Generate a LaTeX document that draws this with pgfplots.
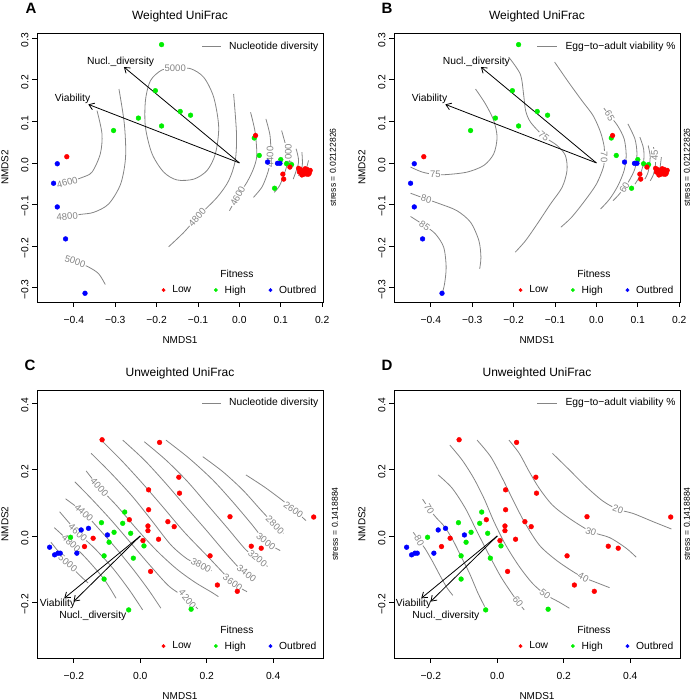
\documentclass[border=0pt]{standalone}
\usepackage{fontspec}
\setmainfont{Liberation Sans}
\usepackage{pgfplots}
\usepackage{pgfplotstable}
\pgfplotsset{compat=1.18}
\usetikzlibrary{arrows.meta}

\definecolor{cred}{HTML}{FF0000}
\definecolor{cgreen}{HTML}{00EE00}
\definecolor{cblue}{HTML}{0000FF}
\definecolor{cgray}{HTML}{858585}

\newcommand\fs{\fontsize{10.3}{12}\selectfont}

% weighted UniFrac ordination (panels A, B)
\pgfplotstableread{
x y
-0.188 0.285
-0.203 0.174
-0.143 0.124
-0.118 0.115
-0.244 0.108
-0.188 0.089
-0.304 0.078
0.036 0.060
0.048 0.018
0.100 0.008
0.114 -0.002
0.126 -0.004
0.085 -0.061
}\wHigh
\pgfplotstableread{
x y
-0.440 -0.002
-0.449 -0.049
-0.440 -0.106
-0.420 -0.183
-0.373 -0.314
0.068 0.002
0.092 -0.001
0.098 -0.001
}\wOut
\pgfplotstableread{
x y
-0.417 0.015
0.039 0.066
0.105 -0.027
0.107 -0.039
0.122 -0.010
0.143 -0.013
0.148 -0.016
0.145 -0.022
0.153 -0.021
0.156 -0.027
0.161 -0.018
0.167 -0.021
0.169 -0.024
0.163 -0.027
0.151 -0.029
0.159 -0.014
0.164 -0.016
0.147 -0.018
0.155 -0.024
0.171 -0.018
0.150 -0.024
0.159 -0.022
0.167 -0.027
}\wLow

% unweighted UniFrac ordination (panels C, D)
\pgfplotstableread{
x y
-0.047 0.072
-0.117 0.040
-0.053 0.038
-0.079 0.011
-0.029 0.008
-0.210 -0.004
-0.094 -0.019
0.011 -0.030
-0.109 -0.060
-0.021 -0.067
-0.109 -0.130
-0.035 -0.223
0.153 -0.221
}\uHigh
\pgfplotstableread{
x y
-0.273 -0.034
-0.258 -0.057
-0.248 -0.052
-0.241 -0.052
-0.191 -0.052
-0.178 0.018
-0.156 0.023
-0.099 0.003
}\uOut
\pgfplotstableread{
x y
-0.115 0.290
0.058 0.282
0.116 0.177
0.118 0.129
0.025 0.139
0.025 0.079
-0.033 0.049
0.023 0.030
0.023 0.016
0.083 0.043
0.102 0.028
0.008 -0.014
0.055 -0.010
-0.142 -0.007
-0.168 -0.032
0.031 -0.107
0.270 0.058
0.210 -0.060
0.334 -0.031
0.364 -0.037
0.232 -0.148
0.292 -0.167
0.522 0.057
}\uLow

\pgfplotsset{
  nmds/.style={
    scale only axis, width=286pt, clip=false, anchor=south west,
    axis line style={black, line width=0.8pt},
    tick align=outside, major tick length=5pt,
    xtick pos=bottom, ytick pos=left,
    tick style={black, line width=0.8pt},
    tick label style={font=\fs},
    yticklabel style={rotate=90, anchor=south, xshift=-2pt},
    xticklabel style={yshift=-6pt},
    xlabel={NMDS1}, ylabel={NMDS2},
    label style={font=\fs},
    every axis x label/.style={at={(axis description cs:0.5,-0.141)}, anchor=center},
    every axis y label/.style={at={(axis description cs:-0.112,0.5)}, rotate=90, anchor=center},
    title style={font=\fontsize{12}{14}\selectfont, at={(axis description cs:0.5,1.038)}, anchor=center},
    legend columns=3,
    legend style={draw=none, fill=none, font=\fs, at={(rel axis cs:0.995,0.012)}, anchor=south east,
      /tikz/every odd column/.append style={column sep=5pt},
      /tikz/every even column/.append style={column sep=21pt}},
  },
  wu/.style={nmds, height=269pt, xmin=-0.489, xmax=0.202, ymin=-0.335, ymax=0.313,
    xtick={-0.4,-0.3,-0.2,-0.1,0,0.1,0.2}, xticklabels={−0.4,−0.3,−0.2,−0.1,0.0,0.1,0.2},
    ytick={-0.3,-0.2,-0.1,0,0.1,0.2,0.3}, yticklabels={−0.3,−0.2,−0.1,0.0,0.1,0.2,0.3},
    title={Weighted UniFrac}},
  uu/.style={nmds, height=268pt, xmin=-0.311, xmax=0.550, ymin=-0.368, ymax=0.440,
    xtick={-0.2,0,0.2,0.4}, xticklabels={−0.2,0.0,0.2,0.4},
    ytick={-0.2,0,0.2,0.4}, yticklabels={−0.2,0.0,0.2,0.4},
    title={Unweighted UniFrac}},
  ctr/.style={no marks, color=cgray, line width=0.8pt, smooth, forget plot},
  arr/.style={black, line width=0.8pt, -{Straight Barb[length=5pt,width=7pt]}, forget plot},
  pt/.style={only marks, mark=*, mark size=2.4pt, forget plot},
}
\tikzset{
  clab/.style={text=cgray, fill=white, inner sep=0.8pt, font=\fontsize{9.5}{10}\selectfont},
  stress/.style={rotate=90, inner sep=0pt, font=\fontsize{8.6}{10}\selectfont},
}

\newcommand\fitlegend{%
  \addlegendimage{only marks, mark=*, cred, mark size=1.7pt}\addlegendentry{Low}
  \addlegendimage{only marks, mark=*, cgreen, mark size=1.7pt}\addlegendentry{High}
  \addlegendimage{only marks, mark=*, cblue, mark size=1.7pt}\addlegendentry{Outbred}
  \node[font=\fs] at (rel axis cs:0.699,0.104) {Fitness};}

\begin{document}
\begin{tikzpicture}
\useasboundingbox (0,0) rectangle (695pt,700pt);

% ---------------- A ----------------
\begin{axis}[wu, at={(37pt,398pt)}]
\addplot[ctr] coordinates {(-0.344,0.126) (-0.332,0.070) (-0.336,0.022) (-0.356,-0.022) (-0.380,-0.035) (-0.416,-0.047)};
\addplot[ctr] coordinates {(-0.291,0.178) (-0.278,0.094) (-0.275,0.014) (-0.287,-0.051) (-0.316,-0.099) (-0.352,-0.119) (-0.384,-0.124) (-0.416,-0.129)};
\addplot[ctr] coordinates {(-0.397,-0.237) (-0.364,-0.251) (-0.340,-0.267) (-0.324,-0.293)};
\addplot[ctr] coordinates {(-0.155,0.228) (-0.118,0.227) (-0.086,0.206) (-0.062,0.158) (-0.050,0.086) (-0.058,0.022) (-0.078,-0.018) (-0.110,-0.039) (-0.151,-0.041) (-0.183,-0.022) (-0.211,0.022) (-0.227,0.086) (-0.227,0.150) (-0.215,0.198) (-0.187,0.224) (-0.155,0.228)};
\addplot[ctr] coordinates {(-0.014,0.166) (-0.007,0.070) (-0.010,0.006) (-0.026,-0.043) (-0.054,-0.083) (-0.102,-0.131) (-0.134,-0.167) (-0.171,-0.202)};
\addplot[ctr] coordinates {(0.027,0.122) (0.038,0.074) (0.042,0.018) (0.034,-0.014) (0.018,-0.047) (-0.004,-0.080) (-0.024,-0.115)};
\addplot[ctr] coordinates {(0.064,0.106) (0.074,0.066) (0.076,0.020) (0.072,-0.010) (0.066,-0.031) (0.054,-0.059) (0.034,-0.083)};
\addplot[ctr] coordinates {(0.102,0.078) (0.113,0.038) (0.118,0.010) (0.110,-0.022) (0.097,-0.055) (0.084,-0.071)};
\addplot[ctr] coordinates {(0.137,0.034) (0.143,0.002) (0.130,-0.039)};
\addplot[ctr] coordinates {(0.151,0.026) (0.152,-0.006) (0.143,-0.031)};
\addplot[ctr] coordinates {(0.167,0.006) (0.161,-0.018)};
\node[clab, rotate=15] at (axis cs:-0.416,-0.047) {4600};
\node[clab, rotate=5] at (axis cs:-0.416,-0.129) {4800};
\node[clab, rotate=-18] at (axis cs:-0.397,-0.237) {5000};
\node[clab] at (axis cs:-0.155,0.228) {5000};
\node[clab, rotate=48] at (axis cs:-0.102,-0.131) {4800};
\node[clab, rotate=62] at (axis cs:-0.004,-0.080) {4600};
\node[clab, rotate=90] at (axis cs:0.074,0.014) {4400};
\node[clab, rotate=90] at (axis cs:0.118,0.020) {4000};
\addplot[arr] coordinates {(0,0) (-0.279,0.231)};
\addplot[arr] coordinates {(0,0) (-0.365,0.141)};
\node[font=\fs] at (axis cs:-0.287,0.244) {Nucl.\_diversity};
\node[font=\fs] at (axis cs:-0.403,0.154) {Viability};
\addplot[pt, cgreen] table {\wHigh};
\addplot[pt, cblue] table {\wOut};
\addplot[pt, cred] table {\wLow};
\fitlegend
\draw[cgray, line width=0.8pt] (rel axis cs:0.577,0.949) -- (rel axis cs:0.643,0.949);
\node[anchor=west, inner sep=0pt, font=\fs] at (rel axis cs:0.671,0.949) {Nucleotide diversity};
\node[stress] at (rel axis cs:1.035,0.5) {stress = 0.02122826};
\end{axis}

% ---------------- B ----------------
\begin{axis}[wu, at={(394pt,398pt)}]
\addplot[ctr] coordinates {(-0.292,0.178) (-0.268,0.142) (-0.248,0.102) (-0.240,0.062) (-0.248,0.022) (-0.272,-0.006) (-0.312,-0.022) (-0.361,-0.028) (-0.389,-0.028) (-0.421,-0.022) (-0.449,-0.010)};
\addplot[ctr] coordinates {(-0.449,-0.073) (-0.411,-0.087) (-0.377,-0.099) (-0.337,-0.115) (-0.304,-0.143) (-0.284,-0.187) (-0.279,-0.227) (-0.282,-0.255)};
\addplot[ctr] coordinates {(-0.449,-0.129) (-0.415,-0.151) (-0.389,-0.171) (-0.369,-0.203) (-0.363,-0.251) (-0.367,-0.292) (-0.373,-0.316)};
\addplot[ctr] coordinates {(-0.212,0.255) (-0.184,0.214) (-0.176,0.166) (-0.171,0.126) (-0.159,0.098) (-0.127,0.064) (-0.095,0.042) (-0.075,0.018) (-0.071,-0.018) (-0.083,-0.059) (-0.111,-0.099) (-0.143,-0.147) (-0.171,-0.187) (-0.196,-0.215)};
\addplot[ctr] coordinates {(-0.101,0.243) (-0.067,0.194) (-0.035,0.150) (-0.008,0.114) (0.010,0.074) (0.019,0.038) (0.019,0.014) (0.017,-0.010) (0.000,-0.051) (-0.028,-0.091) (-0.060,-0.131) (-0.086,-0.155)};
\addplot[ctr] coordinates {(0.018,0.132) (0.032,0.114) (0.051,0.090) (0.067,0.058) (0.072,0.018) (0.067,-0.018) (0.052,-0.055) (0.032,-0.087) (0.010,-0.111)};
\addplot[ctr] coordinates {(0.076,0.094) (0.093,0.058) (0.098,0.022) (0.093,-0.014) (0.079,-0.043) (0.068,-0.059) (0.052,-0.079) (0.040,-0.091)};
\addplot[ctr] coordinates {(0.105,0.062) (0.114,0.034) (0.114,0.002) (0.105,-0.031) (0.093,-0.051)};
\addplot[ctr] coordinates {(0.125,0.042) (0.130,0.014) (0.125,-0.022) (0.117,-0.039)};
\addplot[ctr] coordinates {(0.138,0.038) (0.143,0.002) (0.138,-0.027) (0.130,-0.043)};
\addplot[ctr] coordinates {(0.157,0.014) (0.153,-0.018)};
\node[clab] at (axis cs:-0.389,-0.028) {75};
\node[clab, rotate=-15] at (axis cs:-0.411,-0.087) {80};
\node[clab, rotate=-35] at (axis cs:-0.415,-0.151) {85};
\node[clab, rotate=-40] at (axis cs:-0.127,0.064) {75};
\node[clab, rotate=-90] at (axis cs:0.019,0.014) {70};
\node[clab, rotate=-62] at (axis cs:0.032,0.114) {65};
\node[clab, rotate=60] at (axis cs:0.068,-0.059) {60};
\node[clab, rotate=90] at (axis cs:0.141,0.018) {45};
\addplot[arr] coordinates {(0,0) (-0.279,0.231)};
\addplot[arr] coordinates {(0,0) (-0.365,0.141)};
\node[font=\fs] at (axis cs:-0.290,0.244) {Nucl.\_diversity};
\node[font=\fs] at (axis cs:-0.403,0.154) {Viability};
\addplot[pt, cgreen] table {\wHigh};
\addplot[pt, cblue] table {\wOut};
\addplot[pt, cred] table {\wLow};
\fitlegend
\draw[cgray, line width=0.8pt] (rel axis cs:0.500,0.949) -- (rel axis cs:0.570,0.949);
\node[anchor=west, inner sep=0pt, font=\fs] at (rel axis cs:0.599,0.949) {Egg−to−adult viability \%};
\node[stress] at (rel axis cs:1.024,0.5) {stress = 0.02122826};
\end{axis}

% ---------------- C ----------------
\begin{axis}[uu, at={(37pt,42pt)}]
\addplot[ctr] coordinates {(0.318,0.184) (0.373,0.148) (0.423,0.111) (0.461,0.080) (0.499,0.046)};
\addplot[ctr] coordinates {(0.188,0.239) (0.248,0.194) (0.308,0.139) (0.363,0.078) (0.405,0.033) (0.431,0.008)};
\addplot[ctr] coordinates {(0.077,0.289) (0.147,0.234) (0.218,0.169) (0.278,0.103) (0.333,0.038) (0.378,-0.017) (0.421,-0.044)};
\addplot[ctr] coordinates {(0.012,0.284) (0.077,0.229) (0.142,0.164) (0.203,0.093) (0.263,0.023) (0.318,-0.042) (0.353,-0.068) (0.383,-0.092)};
\addplot[ctr] coordinates {(-0.053,0.289) (0.012,0.229) (0.077,0.158) (0.137,0.088) (0.198,0.018) (0.253,-0.047) (0.298,-0.097) (0.320,-0.113) (0.348,-0.132)};
\addplot[ctr] coordinates {(-0.118,0.289) (-0.058,0.229) (0.007,0.158) (0.070,0.085) (0.132,0.012) (0.205,-0.064) (0.278,-0.140) (0.321,-0.168)};
\addplot[ctr] coordinates {(-0.148,0.249) (-0.088,0.189) (-0.023,0.118) (0.037,0.043) (0.092,-0.027) (0.142,-0.070) (0.183,-0.089) (0.215,-0.105)};
\addplot[ctr] coordinates {(-0.163,0.196) (-0.123,0.146) (-0.070,0.090) (-0.010,0.020) (0.050,-0.045) (0.110,-0.100) (0.165,-0.140) (0.215,-0.170) (0.235,-0.183)};
\addplot[ctr] coordinates {(-0.197,0.163) (-0.148,0.113) (-0.088,0.048) (-0.028,-0.022) (0.032,-0.092) (0.087,-0.152) (0.142,-0.190) (0.173,-0.220)};
\addplot[ctr] coordinates {(-0.225,0.112) (-0.170,0.070) (-0.128,0.025) (-0.075,-0.035) (-0.022,-0.100) (0.025,-0.163) (0.062,-0.218)};
\addplot[ctr] coordinates {(-0.243,0.073) (-0.188,0.010) (-0.138,-0.037) (-0.083,-0.097) (-0.033,-0.163) (0.007,-0.223)};
\addplot[ctr] coordinates {(-0.259,0.025) (-0.208,-0.022) (-0.159,-0.072) (-0.108,-0.132) (-0.073,-0.188)};
\addplot[ctr] coordinates {(-0.269,-0.019) (-0.218,-0.082) (-0.179,-0.122) (-0.157,-0.142)};
\node[clab, rotate=-35] at (axis cs:0.461,0.080) {2600};
\node[clab, rotate=-45] at (axis cs:0.405,0.033) {2800};
\node[clab, rotate=-38] at (axis cs:0.378,-0.017) {3000};
\node[clab, rotate=-40] at (axis cs:0.353,-0.068) {3200};
\node[clab, rotate=-37] at (axis cs:0.320,-0.113) {3400};
\node[clab, rotate=-35] at (axis cs:0.278,-0.140) {3600};
\node[clab, rotate=-28] at (axis cs:0.183,-0.089) {3800};
\node[clab, rotate=-48] at (axis cs:-0.123,0.146) {4000};
\node[clab, rotate=-50] at (axis cs:0.142,-0.190) {4200};
\node[clab, rotate=-42] at (axis cs:-0.170,0.070) {4400};
\node[clab, rotate=-42] at (axis cs:-0.188,0.010) {4600};
\node[clab, rotate=-42] at (axis cs:-0.208,-0.022) {4800};
\node[clab, rotate=-40] at (axis cs:-0.218,-0.082) {5000};
\addplot[arr] coordinates {(0,0) (-0.229,-0.188)};
\addplot[arr] coordinates {(0,0) (-0.201,-0.198)};
\node[font=\fs] at (axis cs:-0.249,-0.206) {Viability};
\node[font=\fs] at (axis cs:-0.143,-0.240) {Nucl.\_diversity};
\addplot[pt, cgreen] table {\uHigh};
\addplot[pt, cblue] table {\uOut};
\addplot[pt, cred] table {\uLow};
\fitlegend
\draw[cgray, line width=0.8pt] (rel axis cs:0.577,0.951) -- (rel axis cs:0.643,0.951);
\node[anchor=west, inner sep=0pt, font=\fs] at (rel axis cs:0.671,0.951) {Nucleotide diversity};
\node[stress] at (rel axis cs:1.042,0.5) {stress = 0.1418884};
\end{axis}

% ---------------- D ----------------
\begin{axis}[uu, at={(394pt,42pt)}]
\addplot[ctr] coordinates {(0.166,0.249) (0.217,0.199) (0.267,0.149) (0.318,0.105) (0.363,0.080) (0.408,0.068) (0.469,0.043) (0.524,0.021)};
\addplot[ctr] coordinates {(0.035,0.289) (0.066,0.249) (0.096,0.194) (0.126,0.144) (0.166,0.093) (0.217,0.053) (0.282,0.013) (0.338,-0.005) (0.388,-0.037) (0.418,-0.064)};
\addplot[ctr] coordinates {(-0.061,0.289) (-0.020,0.239) (0.015,0.174) (0.045,0.113) (0.081,0.043) (0.126,-0.027) (0.176,-0.072) (0.227,-0.107) (0.259,-0.125) (0.297,-0.140) (0.338,-0.156)};
\addplot[ctr] coordinates {(-0.143,0.274) (-0.106,0.229) (-0.071,0.174) (-0.040,0.113) (-0.010,0.043) (0.025,-0.027) (0.066,-0.092) (0.106,-0.143) (0.144,-0.176) (0.187,-0.200) (0.217,-0.218)};
\addplot[ctr] coordinates {(-0.178,0.184) (-0.136,0.144) (-0.096,0.083) (-0.061,0.013) (-0.025,-0.057) (0.010,-0.122) (0.040,-0.168) (0.062,-0.199) (0.081,-0.223)};
\addplot[ctr] coordinates {(-0.225,0.111) (-0.205,0.081) (-0.182,0.053) (-0.159,0.028) (-0.134,-0.012) (-0.109,-0.062) (-0.084,-0.112) (-0.058,-0.173) (-0.038,-0.213)};
\addplot[ctr] coordinates {(-0.253,0.011) (-0.235,-0.014) (-0.217,-0.039) (-0.195,-0.077) (-0.171,-0.122) (-0.151,-0.157) (-0.134,-0.179)};
\node[clab, rotate=-20] at (axis cs:0.363,0.080) {20};
\node[clab, rotate=-18] at (axis cs:0.282,0.013) {30};
\node[clab, rotate=-28] at (axis cs:0.259,-0.125) {40};
\node[clab, rotate=-38] at (axis cs:0.144,-0.176) {50};
\node[clab, rotate=-52] at (axis cs:0.062,-0.199) {60};
\node[clab, rotate=-58] at (axis cs:-0.205,0.081) {70};
\node[clab, rotate=-60] at (axis cs:-0.235,-0.014) {80};
\addplot[arr] coordinates {(0,0) (-0.229,-0.188)};
\addplot[arr] coordinates {(0,0) (-0.201,-0.198)};
\node[font=\fs] at (axis cs:-0.252,-0.206) {Viability};
\node[font=\fs] at (axis cs:-0.155,-0.240) {Nucl.\_diversity};
\addplot[pt, cgreen] table {\uHigh};
\addplot[pt, cblue] table {\uOut};
\addplot[pt, cred] table {\uLow};
\fitlegend
\draw[cgray, line width=0.8pt] (rel axis cs:0.500,0.951) -- (rel axis cs:0.570,0.951);
\node[anchor=west, inner sep=0pt, font=\fs] at (rel axis cs:0.599,0.951) {Egg−to−adult viability \%};
\node[stress] at (rel axis cs:1.024,0.5) {stress = 0.1418884};
\end{axis}

\node[font=\bfseries\fontsize{15}{16}\selectfont] at (31pt,692pt) {A};
\node[font=\bfseries\fontsize{15}{16}\selectfont] at (387pt,692pt) {B};
\node[font=\bfseries\fontsize{15}{16}\selectfont] at (30pt,335pt) {C};
\node[font=\bfseries\fontsize{15}{16}\selectfont] at (387pt,335pt) {D};
\end{tikzpicture}
\end{document}
